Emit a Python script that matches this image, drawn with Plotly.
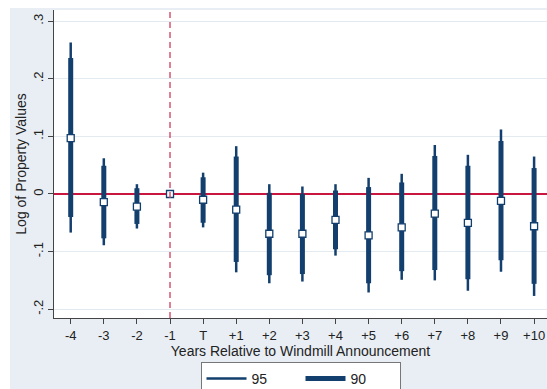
import plotly.graph_objects as go

# ---- data ----
labels = ["-4", "-3", "-2", "-1", "T", "+1", "+2", "+3", "+4", "+5", "+6", "+7", "+8", "+9", "+10"]
coef   = [0.097, -0.014, -0.022, 0.0, -0.010, -0.027, -0.069, -0.069, -0.045, -0.072, -0.058, -0.034, -0.050, -0.012, -0.056]
lo95   = [-0.067, -0.089, -0.060, None, -0.058, -0.136, -0.155, -0.152, -0.107, -0.171, -0.149, -0.150, -0.168, -0.135, -0.177]
hi95   = [0.263, 0.062, 0.017, None, 0.037, 0.083, 0.017, 0.013, 0.017, 0.028, 0.035, 0.085, 0.068, 0.112, 0.065]
lo90   = [-0.040, -0.077, -0.052, None, -0.050, -0.118, -0.141, -0.139, -0.096, -0.155, -0.134, -0.132, -0.148, -0.115, -0.156]
hi90   = [0.236, 0.049, 0.010, None, 0.029, 0.065, 0.002, 0.000, 0.006, 0.012, 0.020, 0.066, 0.049, 0.092, 0.045]
ytick_vals = [-0.2, -0.1, 0.0, 0.1, 0.2, 0.3]
ytick_text = ["-.2", "-.1", "0", ".1", ".2", ".3"]
ref_period = "-1"

xs = list(range(len(labels)))

def segs(lo, hi):
    X, Y = [], []
    for i, a, b in zip(xs, lo, hi):
        if a is None or b is None:
            continue
        X += [i, i, None]
        Y += [a, b, None]
    return X, Y

navy = "#123f6e"
red = "#c8163f"
font = "Liberation Sans, Arial, sans-serif"

fig = go.Figure()
x95, y95 = segs(lo95, hi95)
x90, y90 = segs(lo90, hi90)
fig.add_trace(go.Scatter(x=x95, y=y95, mode="lines", name="95",
                         line=dict(color=navy, width=2.5), hoverinfo="skip"))
fig.add_trace(go.Scatter(x=x90, y=y90, mode="lines", name="90",
                         line=dict(color=navy, width=5), hoverinfo="skip"))
fig.add_trace(go.Scatter(x=xs, y=coef, mode="markers", showlegend=False,
                         marker=dict(symbol="square", size=7, color="white",
                                     line=dict(color=navy, width=1.3))))

W, H = 547, 389
L, R, T, B = 54, 0, 10, 71
pw, ph = W - L - R, H - T - B

def px_x(p):
    return (p - L) / pw

def px_y(p):
    return (H - B - p) / ph

bg = "#e8eef4"
shapes = [
    dict(type="rect", xref="paper", yref="paper", x0=px_x(10), x1=px_x(W + 5),
         y0=px_y(H + 5), y1=px_y(8), fillcolor=bg, line=dict(width=0), layer="below"),
    dict(type="rect", xref="paper", yref="paper", x0=0, x1=1.05, y0=0, y1=1,
         fillcolor="white", line=dict(width=0), layer="below"),
    dict(type="line", xref="x", yref="paper", x0=labels.index(ref_period), x1=labels.index(ref_period),
         y0=0, y1=1, line=dict(color="#d23a5a", width=1.3, dash="6px,4px"), layer="above"),
]

fig.update_layout(
    width=W, height=H,
    margin=dict(l=L, r=R, t=T, b=B, autoexpand=False),
    paper_bgcolor="white", plot_bgcolor="white",
    font=dict(family=font, size=13, color="#222"),
    shapes=shapes,
    showlegend=True,
    legend=dict(orientation="h", x=0.5, xanchor="center", y=px_y(362), yanchor="top",
                bgcolor="white", bordercolor="#777", borderwidth=1,
                font=dict(size=14, color="#222"), itemwidth=40, tracegroupgap=0,
                entrywidth=44, entrywidthmode="pixels"),
    xaxis=dict(range=[-0.505, 14.39], tickvals=xs, ticktext=labels,
               showgrid=False, zeroline=False, showline=True, linecolor="#444", linewidth=1,
               ticks="outside", ticklen=5, tickcolor="#444",
               title=dict(text="Years Relative to Windmill Announcement", standoff=2,
                          font=dict(size=14)),
               tickfont=dict(size=13)),
    yaxis=dict(range=[-0.2153, 0.3194], tickvals=ytick_vals, ticktext=ytick_text,
               tickangle=-90, showgrid=True, gridcolor="#e3eaf0", gridwidth=1,
               zeroline=True, zerolinecolor=red, zerolinewidth=1.5,
               showline=True, linecolor="#444", linewidth=1,
               ticks="outside", ticklen=5, tickcolor="#444",
               title=dict(text="Log of Property Values", standoff=0, font=dict(size=14)),
               tickfont=dict(size=13)),
)

fig.write_html("out.html", config={"displayModeBar": False},
               post_script="document.body.style.margin='0';document.documentElement.style.overflow='hidden';")
